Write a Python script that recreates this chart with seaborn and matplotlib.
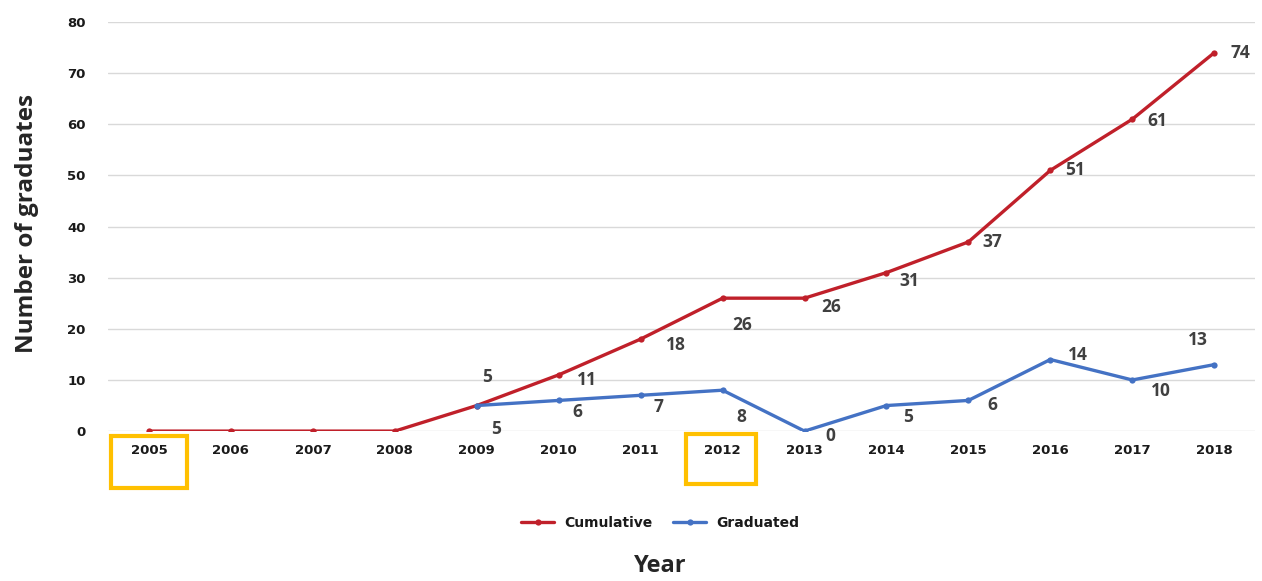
import pandas as pd
import matplotlib.pyplot as plt
import seaborn as sns
from matplotlib.patches import Rectangle

years = list(range(2005, 2019))
cumulative = [0, 0, 0, 0, 5, 11, 18, 26, 26, 31, 37, 51, 61, 74]
grad_years = list(range(2009, 2019))
graduated = [5, 6, 7, 8, 0, 5, 6, 14, 10, 13]

# label offsets in pixels (dx, dy) for each point
cum_offsets = [None, None, None, None, (10, 29), (28, -5), (35, -6), (20, -27), (27, -9),
               (23, -8), (24, 0), (25, 0), (25, -2), (26, 0)]
grad_offsets = [(19, -23), (19, -12), (18, -12), (19, -27), (26, -5), (22, -11),
                (24, -5), (28, 5), (29, -11), (-16, 25)]

df = pd.concat([
    pd.DataFrame({'Year': years, 'Value': cumulative, 'Series': 'Cumulative'}),
    pd.DataFrame({'Year': grad_years, 'Value': graduated, 'Series': 'Graduated'}),
], ignore_index=True)

sns.set_style('white')
plt.rcParams['font.family'] = ['DejaVu Sans']

fig = plt.figure(figsize=(12.62, 5.81), dpi=100)
ax = fig.add_axes([0.0856, 0.258, 0.909, 0.704])

palette = {'Cumulative': '#C0202A', 'Graduated': '#4472C4'}
sns.lineplot(data=df, x='Year', y='Value', hue='Series', palette=palette, ax=ax,
             linewidth=2.4, marker='o', markersize=4.5, markeredgewidth=0)

ax.set_xlim(2004.5, 2018.5)
ax.set_ylim(0, 80)
ax.set_yticks(range(0, 81, 10))
ax.set_xticks(years)
ax.set_xticklabels([str(y) for y in years], fontsize=9.5, fontweight='bold')
ax.set_yticklabels([str(v) for v in range(0, 81, 10)], fontsize=9.5, fontweight='bold')
ax.tick_params(axis='x', length=0, pad=9, colors='#1a1a1a')
ax.tick_params(axis='y', length=0, pad=16, colors='#1a1a1a')
ax.grid(axis='y', color='#d9d9d9', linewidth=1)
ax.set_axisbelow(True)
for s in ax.spines.values():
    s.set_visible(False)

label_kw = dict(textcoords='offset pixels', ha='center', va='center',
                fontsize=12.5, fontweight='bold', color='#404040',
                family=['Open Sans', 'DejaVu Sans'])
for y, v, off in zip(years, cumulative, cum_offsets):
    if off is not None:
        ax.annotate(str(v), (y, v), xytext=off, **label_kw)
for y, v, off in zip(grad_years, graduated, grad_offsets):
    ax.annotate(str(v), (y, v), xytext=off, **label_kw)

ax.set_xlabel('')
ax.set_ylabel('')
fig.text(0.523, 0.026, 'Year', ha='center', va='center', fontsize=17, fontweight='bold',
         family=['Open Sans', 'DejaVu Sans'])
fig.text(0.021, 0.615, 'Number of graduates', ha='center', va='center', rotation=90,
         fontsize=17.5, fontweight='bold', family=['Open Sans', 'DejaVu Sans'])

leg = ax.legend(loc='center', bbox_to_anchor=(0.523, 1 - 523 / 581), bbox_transform=fig.transFigure,
                ncol=2, frameon=False, prop={'weight': 'bold', 'size': 10},
                handlelength=2.4, columnspacing=1.5, handletextpad=0.7)
for t in leg.get_texts():
    t.set_color('#1a1a1a')

# highlight boxes around 2005 and 2012
W, H = 1262, 581
for x0, y0, x1, y1 in [(111, 436, 187, 488), (686, 434, 756, 484)]:
    fig.patches.append(Rectangle((x0 / W, 1 - y1 / H), (x1 - x0) / W, (y1 - y0) / H,
                                 transform=fig.transFigure, fill=False,
                                 edgecolor='#FFC000', linewidth=3))

fig.savefig('out.png', dpi=100)
